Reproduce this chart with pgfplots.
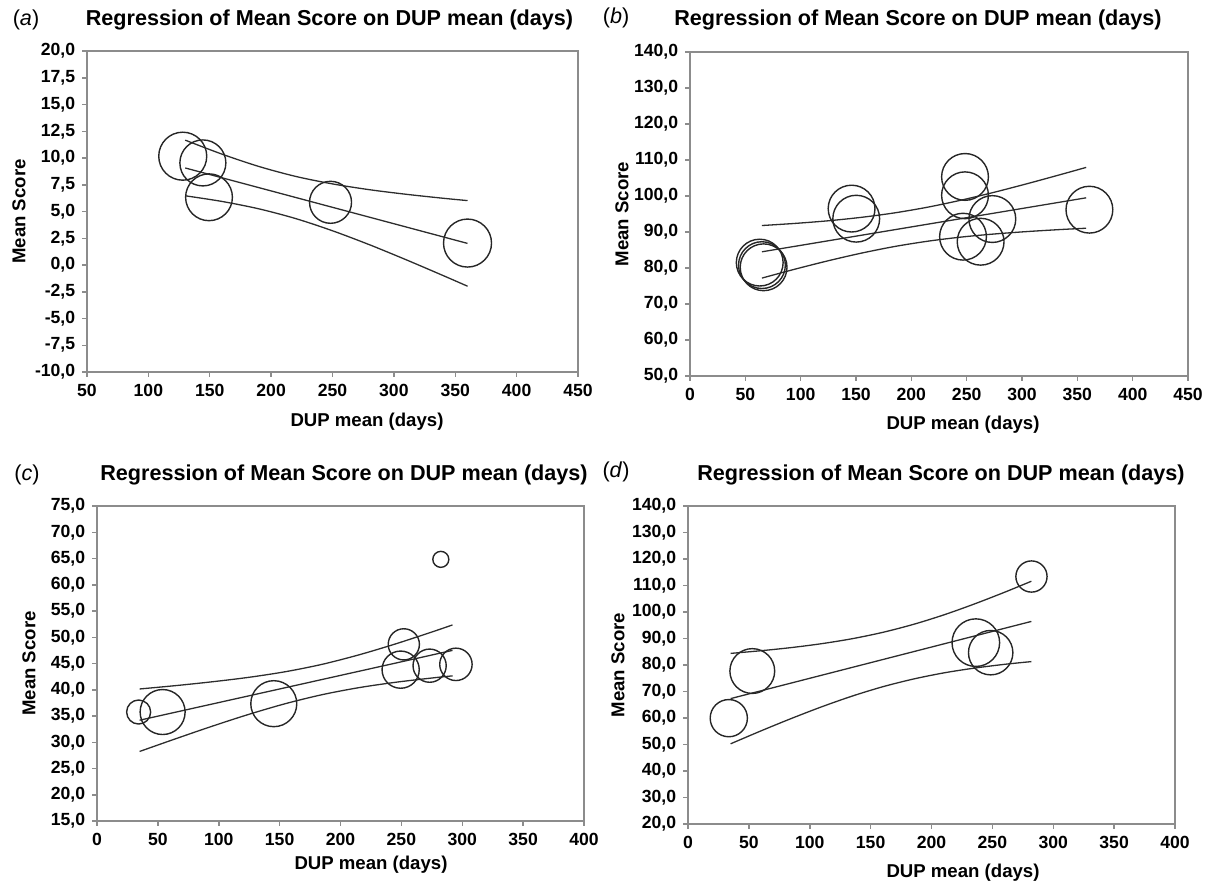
\documentclass[border=0pt]{standalone}
\usepackage{fontspec}
\setmainfont{Liberation Sans}
\usepackage{pgfplots}
\pgfplotsset{compat=1.18}
\definecolor{framegray}{RGB}{140,140,140}
\definecolor{linegray}{RGB}{45,45,45}
\pgfplotsset{
  panel/.style={
    scale only axis, anchor=north west,
    axis line style={draw=framegray, line width=0.75pt},
    tick style={draw=framegray, line width=0.75pt},
    tick align=outside, tick pos=left, major tick length=2.4pt,
    ticklabel style={font=\fontsize{8.8}{10}\selectfont\bfseries, text=black},
    /pgf/number format/assume math mode=true,
    yticklabel style={/pgf/number format/.cd, fixed, fixed zerofill, precision=1, use comma},
    xticklabel style={/pgf/number format/.cd, fixed, precision=0},
    xtick distance=50,
  },
  circ/.style={only marks, mark=o, scatter, scatter/use mapped color={draw=black!85, fill=none},
    mark options={line width=0.7pt},
    visualization depends on={\thisrow{r} \as \rr},
    scatter/@pre marker code/.append style={/tikz/mark size=\rr}},
  reg/.style={no marks, line width=0.65pt, draw=linegray, smooth},
}
\newcommand{\ttl}{\fontsize{10.8}{12}\selectfont\bfseries Regression of Mean Score on DUP mean (days)}
\newcommand{\lab}{\fontsize{9.3}{11}\selectfont\bfseries}
\newcommand{\plab}{\fontsize{10.8}{12}\selectfont}
\begin{document}
\begin{tikzpicture}
\useasboundingbox (0,0) rectangle (606.5pt,-442.5pt);
% ---------------- (a)
\begin{axis}[panel, at={(43.5pt,-25.5pt)}, width=245.5pt, height=160.5pt,
  xmin=50, xmax=450, ymin=-10, ymax=20, ytick distance=2.5]
\addplot[circ] table {
x y r
128 10.17 12
144.4 9.54 11.5
149.4 6.33 11.7
248.4 5.86 10.5
360 2.05 12
};
\addplot[reg] coordinates {(130,9.07) (360,2.02)};
\addplot[reg] coordinates {(130,11.67) (160,10.36) (190,9.21) (220,8.28) (250,7.58) (280,7.04) (310,6.61) (340,6.24) (360,6.02)};
\addplot[reg] coordinates {(130,6.47) (160,5.94) (190,5.25) (220,4.34) (250,3.20) (280,1.90) (310,0.49) (340,-0.98) (360,-1.98)};
\end{axis}
% ---------------- (b)
\begin{axis}[panel, at={(345pt,-26pt)}, width=249pt, height=162pt,
  xmin=0, xmax=450, ymin=50, ymax=140, ytick distance=10]
\addplot[circ] table {
x y r
63 81.5 11.7
65 80.8 11.7
66.5 80.2 11.7
146 96.5 11.7
150.2 93.7 11.7
248.5 105.3 11.7
248.5 100.2 11.7
273.2 93.6 11.7
246.7 88.7 11.7
262.6 87.3 11.7
360.9 96.2 11.7
};
\addplot[reg] coordinates {(65,84.5) (358,99.5)};
\addplot[reg] coordinates {(65,91.80) (95,92.39) (125,93.12) (155,94.08) (185,95.32) (215,96.91) (245,98.85) (275,101.05) (305,103.45) (335,105.97) (358,107.95)};
\addplot[reg] coordinates {(65,77.20) (95,79.69) (125,82.02) (155,84.14) (185,85.98) (215,87.45) (245,88.59) (275,89.45) (305,90.13) (335,90.69) (358,91.05)};
\end{axis}
% ---------------- (c)
\begin{axis}[panel, at={(48.5pt,-253pt)}, width=243.5pt, height=157.5pt,
  xmin=0, xmax=400, ymin=15, ymax=75, ytick distance=5]
\addplot[circ] table {
x y r
34.2 35.76 6
53.9 35.76 11.25
145.2 37.35 11.5
252 48.65 7.8
249.4 43.83 9.3
273.2 44.59 8.3
294.8 44.84 8.1
282.4 64.84 4
};
\addplot[reg] coordinates {(35,34.2) (292,47.5)};
\addplot[reg] coordinates {(35,40.15) (65,40.80) (95,41.53) (125,42.38) (155,43.45) (185,44.85) (215,46.64) (245,48.72) (275,51.00) (292,52.35)};
\addplot[reg] coordinates {(35,28.25) (65,30.70) (95,33.09) (125,35.34) (155,37.37) (185,39.07) (215,40.40) (245,41.42) (275,42.24) (292,42.65)};
\end{axis}
% ---------------- (d)
\begin{axis}[panel, at={(344pt,-253pt)}, width=243.5pt, height=159pt,
  xmin=0, xmax=400, ymin=20, ymax=140, ytick distance=10]
\addplot[circ] table {
x y r
33.5 59.95 9.3
52.8 77.73 11.2
236.4 88.44 11.9
248.6 84.66 11.1
282.1 113.4 7.8
};
\addplot[reg] coordinates {(35,67.33) (282,96.45)};
\addplot[reg] coordinates {(35,84.39) (60,85.40) (85,86.59) (110,88.07) (135,89.94) (160,92.33) (185,95.32) (210,98.90) (235,103.00) (260,107.46) (282,111.61)};
\addplot[reg] coordinates {(35,50.27) (60,55.16) (85,59.85) (110,64.27) (135,68.30) (160,71.81) (185,74.70) (210,77.02) (235,78.82) (260,80.26) (282,81.29)};
\end{axis}
% ---------------- titles and labels
\node at (164.75pt,-10pt) {\ttl};
\node at (459pt,-10pt) {\ttl};
\node at (172pt,-237.5pt) {\ttl};
\node at (470.5pt,-237.5pt) {\ttl};
\node at (13pt,-10pt) {\plab(\textit{a})};
\node at (308pt,-9pt) {\plab(\textit{b})};
\node at (13.5pt,-237.5pt) {\plab(\textit{c})};
\node at (308pt,-236pt) {\plab(\textit{d})};
\node at (183.5pt,-211pt) {\lab DUP mean (days)};
\node at (481.5pt,-212.5pt) {\lab DUP mean (days)};
\node at (185.5pt,-432.5pt) {\lab DUP mean (days)};
\node at (481.5pt,-436.5pt) {\lab DUP mean (days)};
\node[rotate=90] at (9.5pt,-105.75pt) {\lab Mean Score};
\node[rotate=90] at (311pt,-107pt) {\lab Mean Score};
\node[rotate=90] at (14.5pt,-331.75pt) {\lab Mean Score};
\node[rotate=90] at (309pt,-332.5pt) {\lab Mean Score};
\end{tikzpicture}
\end{document}
